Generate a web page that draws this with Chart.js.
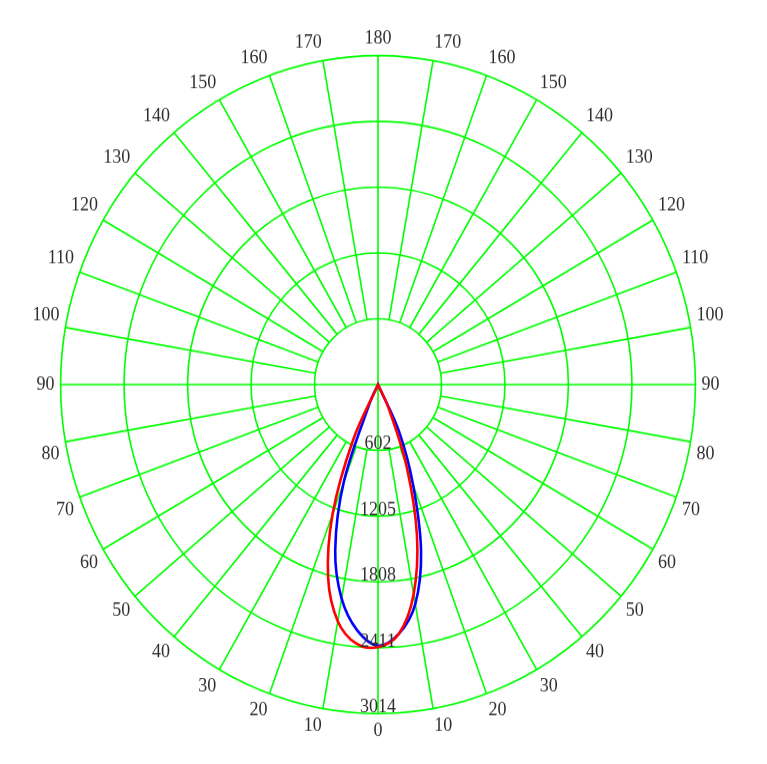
<!DOCTYPE html>
<html>
<head>
<meta charset="utf-8">
<title>Polar intensity curve</title>
<script src="https://cdn.jsdelivr.net/npm/chart.js@4.4.1/dist/chart.umd.min.js"></script>
<style>
    html, body { margin: 0; padding: 0; background: #fff; }
</style>
</head>
<body>
<!-- the source picture is a little taller than wide, so the canvas is stretched -->
<canvas id="polar" width="767" height="737" style="display:block;width:767px;height:764px"></canvas>
<script>
// direction labels every 10 deg, 0 = straight down, 180 = straight up
var sideLabels = ['0', '10', '20', '30', '40', '50', '60', '70', '80', '90',
    '100', '110', '120', '130', '140', '150', '160', '170', '180'];

// ring values (cd) and the text printed on them
var ringValues = [602.8, 1205.6, 1808.4, 2411.2, 3014];
var ringLabels = ['602', '1205', '1808', '2411', '3014'];

// intensity (cd) every 5 deg from 0 (down) to 180 (up); left half and right half
var redLeft = [2405, 2380, 2200, 1830, 1260, 560, 0, 0, 0, 0, 0, 0, 0, 0, 0, 0, 0, 0, 0,
    0, 0, 0, 0, 0, 0, 0, 0, 0, 0, 0, 0, 0, 0, 0, 0, 0, 0];
var redRight = [2405, 2290, 1950, 1430, 790, 240, 0, 0, 0, 0, 0, 0, 0, 0, 0, 0, 0, 0, 0,
    0, 0, 0, 0, 0, 0, 0, 0, 0, 0, 0, 0, 0, 0, 0, 0, 0, 0];
var blueLeft = [2390, 2260, 1990, 1570, 950, 180, 0, 0, 0, 0, 0, 0, 0, 0, 0, 0, 0, 0, 0,
    0, 0, 0, 0, 0, 0, 0, 0, 0, 0, 0, 0, 0, 0, 0, 0, 0, 0];
var blueRight = [2390, 2290, 2040, 1580, 970, 470, 0, 0, 0, 0, 0, 0, 0, 0, 0, 0, 0, 0, 0,
    0, 0, 0, 0, 0, 0, 0, 0, 0, 0, 0, 0, 0, 0, 0, 0, 0, 0];

var GREEN = '#00ff00';
var TEXT = '#2e2e2e';
var FONT = "'Liberation Serif', 'Times New Roman', serif";

// left half goes clockwise from the bottom up to the top, then the right half comes back down
function ring(left, right) {
    return left.concat(right.slice(1, 36).reverse());
}

var sideSlots = [];
for (var k = 0; k <= 36; k++) {
    sideSlots.push(k % 2 === 0 ? sideLabels[k / 2] : '');
}
var slotLabels = ring(sideSlots, sideSlots);

var polarGrid = {
    id: 'polarGrid',
    beforeDatasetsDraw: function (chart) {
        var scale = chart.scales.r;
        var ctx = chart.ctx;
        var outer = ringValues[ringValues.length - 1];
        ctx.save();
        ctx.strokeStyle = GREEN;
        ctx.lineWidth = 1.6;
        ctx.beginPath();
        for (var i = 0; i < slotLabels.length; i += 2) {
            // the four main axes run through the centre, the rest start at the first ring
            var from = i % 18 === 0 ? 0 : ringValues[0];
            var a = scale.getPointPositionForValue(i, from);
            var b = scale.getPointPositionForValue(i, outer);
            ctx.moveTo(a.x, a.y);
            ctx.lineTo(b.x, b.y);
        }
        ctx.stroke();
        ctx.restore();
    },
    afterDatasetsDraw: function (chart) {
        var scale = chart.scales.r;
        var ctx = chart.ctx;
        ctx.save();
        ctx.fillStyle = TEXT;
        ctx.font = '18px ' + FONT;
        ctx.textAlign = 'center';
        ctx.textBaseline = 'alphabetic';
        ringValues.forEach(function (v, i) {
            var y = scale.yCenter + scale.getDistanceFromCenterForValue(v);
            ctx.fillText(ringLabels[i], scale.xCenter, y - 1);
        });
        ctx.restore();
    }
};

var ctx = document.getElementById('polar').getContext('2d');
var chart = new Chart(ctx, {
    type: 'radar',
    data: {
        labels: slotLabels,
        datasets: [
            {
                label: 'red',
                data: ring(redLeft, redRight),
                borderColor: '#ff0000',
                borderWidth: 2.6,
                pointRadius: 0,
                tension: 0.35,
                fill: false
            },
            {
                label: 'blue',
                data: ring(blueLeft, blueRight),
                borderColor: '#0000ff',
                borderWidth: 2.6,
                pointRadius: 0,
                tension: 0.35,
                fill: false
            }
        ]
    },
    options: {
        responsive: false,
        animation: false,
        devicePixelRatio: 1,
        layout: { padding: { top: 27, bottom: 20, left: 0, right: 11 } },
        plugins: {
            legend: { display: false },
            tooltip: { enabled: false }
        },
        scales: {
            r: {
                min: 0,
                max: 3014,
                startAngle: 180,
                afterBuildTicks: function (scale) {
                    scale.ticks = [{ value: 0 }].concat(ringValues.map(function (v) {
                        return { value: v };
                    }));
                },
                ticks: { display: false },
                grid: { circular: true, color: GREEN, lineWidth: 1.6 },
                angleLines: { display: false },
                pointLabels: {
                    display: true,
                    padding: 6,
                    color: TEXT,
                    font: { family: FONT, size: 18 }
                }
            }
        }
    },
    plugins: [polarGrid]
});
</script>
</body>
</html>
